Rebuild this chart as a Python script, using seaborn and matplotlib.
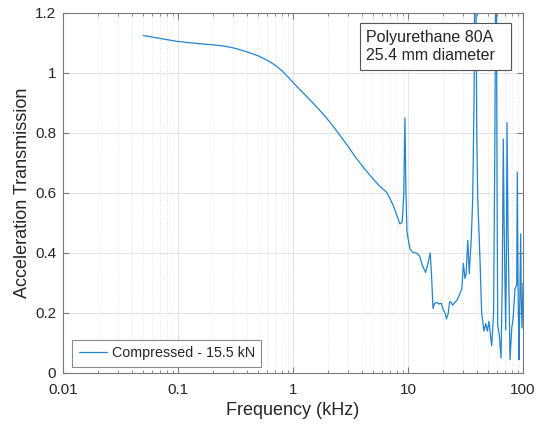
import numpy as np
import pandas as pd
import matplotlib
matplotlib.use('Agg')
import matplotlib.pyplot as plt
import seaborn as sns
from matplotlib.ticker import LogLocator, FixedLocator, FixedFormatter, NullFormatter
from matplotlib.patches import Rectangle

# ---- data ----
freq_khz = [0.05, 0.07, 0.1, 0.15, 0.2, 0.25, 0.3, 0.35, 0.4, 0.5, 0.6, 0.7, 0.8, 0.94,
            1.1, 1.31, 1.55, 1.84, 2.2, 2.56, 3.0, 3.58, 4.2, 4.99, 5.7, 6.53, 7.0, 7.45,
            8.0, 8.51, 8.9, 9.2, 9.4, 9.6, 9.8, 10.1, 10.4, 11.0, 11.9, 12.6, 13.3, 14.2,
            14.8, 15.6, 16.0, 16.5, 17.0, 17.8, 18.6, 19.5, 20.3, 21.0, 21.6, 22.4, 23.0,
            23.5, 24.5, 25.5, 26.7, 28.3, 29.4, 30.3, 31.3, 32.0, 33.1, 34.1, 35.5, 36.5,
            37.5, 38.2, 38.8, 39.6, 40.4, 41.4, 42.5, 43.7, 45.8, 47.4, 49.0, 50.6, 53.4,
            55.5, 57.0, 57.9, 58.6, 59.5, 60.3, 62.2, 64.4, 66.0, 67.4, 68.5, 70.7, 71.8,
            72.6, 74.0, 77.1, 79.8, 82.0, 85.2, 88.2, 89.2, 90.5, 92.3, 93.5, 95.5, 96.5,
            98.0, 100.0]
transmission = [1.125, 1.115, 1.105, 1.098, 1.094, 1.09, 1.084, 1.077, 1.07, 1.057, 1.042,
                1.026, 1.008, 0.98, 0.952, 0.922, 0.893, 0.862, 0.826, 0.792, 0.756, 0.714,
                0.68, 0.646, 0.622, 0.602, 0.58, 0.558, 0.525, 0.497, 0.503, 0.6, 0.85, 0.6,
                0.47, 0.44, 0.414, 0.402, 0.40, 0.39, 0.36, 0.335, 0.36, 0.40, 0.33, 0.215,
                0.232, 0.235, 0.23, 0.232, 0.21, 0.2, 0.18, 0.2, 0.237, 0.237, 0.226, 0.235,
                0.243, 0.265, 0.282, 0.365, 0.315, 0.33, 0.442, 0.331, 0.45, 0.574, 0.9, 1.4,
                1.4, 0.8, 0.58, 0.475, 0.35, 0.2, 0.14, 0.165, 0.14, 0.172, 0.09, 0.2, 0.8,
                1.4, 1.4, 0.6, 0.16, 0.127, 0.05, 0.3, 0.78, 0.5, 0.144, 0.4, 0.835, 0.5,
                0.044, 0.15, 0.18, 0.28, 0.293, 0.67, 0.3, 0.044, 0.2, 0.464, 0.25, 0.15, 0.3]
series_label = 'Compressed - 15.5 kN'
x_ticks = [0.01, 0.1, 1, 10, 100]
x_tick_labels = ['0.01', '0.1', '1', '10', '100']
y_ticks = [0, 0.2, 0.4, 0.6, 0.8, 1.0, 1.2]
y_tick_labels = ['0', '0.2', '0.4', '0.6', '0.8', '1', '1.2']
annotation = 'Polyurethane 80A\n25.4 mm diameter'

# ---- style ----
sns.set_style('white')
plt.rcParams['font.family'] = ['Liberation Sans', 'DejaVu Sans']
text_color = '#262626'
axis_color = '#7a7a7a'
line_color = '#2284cf'

fig = plt.figure(figsize=(5.38, 4.26), dpi=100)
ax = fig.add_axes([63 / 538, 53 / 426, 460 / 538, 360 / 426])

df = pd.DataFrame({'Frequency (kHz)': freq_khz,
                   'Acceleration Transmission': transmission,
                   'series': [series_label] * len(freq_khz)})
sns.lineplot(data=df, x='Frequency (kHz)', y='Acceleration Transmission', hue='series',
             palette=[line_color], sort=False, estimator=None, linewidth=0.9, ax=ax)

ax.set_xscale('log')
ax.set_xlim(0.01, 100)
ax.set_ylim(0, 1.2)

ax.xaxis.set_major_locator(FixedLocator(x_ticks))
ax.xaxis.set_major_formatter(FixedFormatter(x_tick_labels))
ax.xaxis.set_minor_locator(LogLocator(base=10, subs=np.arange(2, 10), numticks=20))
ax.xaxis.set_minor_formatter(NullFormatter())
ax.yaxis.set_major_locator(FixedLocator(y_ticks))
ax.yaxis.set_major_formatter(FixedFormatter(y_tick_labels))

ax.grid(which='major', axis='both', color='#e3e3e3', linestyle='-', linewidth=0.7)
ax.grid(which='minor', axis='x', color='#e3e3e3', linestyle=':', linewidth=0.7)
ax.set_axisbelow(True)

for s in ax.spines.values():
    s.set_visible(True)
    s.set_color(axis_color)
    s.set_linewidth(0.8)

ax.tick_params(which='both', direction='in', top=True, right=True, bottom=True, left=True,
               colors=axis_color, labelcolor=text_color, labelsize=11)
ax.tick_params(which='major', length=4.5, width=0.8)
ax.tick_params(which='minor', length=2.5, width=0.6)
ax.tick_params(axis='x', which='major', pad=7)
ax.tick_params(axis='y', which='major', pad=5)

ax.set_xlabel('Frequency (kHz)', fontsize=13, color=text_color, labelpad=4)
ax.set_ylabel('Acceleration Transmission', fontsize=13, color=text_color, labelpad=2.5)

leg = ax.legend(loc='lower left', bbox_to_anchor=(0.02, 0.017), borderaxespad=0,
                fontsize=10.3, frameon=True, fancybox=False, framealpha=1,
                handlelength=2.0, handletextpad=0.3, borderpad=0.45)
leg.get_frame().set_edgecolor('#8a8a8a')
leg.get_frame().set_linewidth(0.8)
for t in leg.get_texts():
    t.set_color(text_color)
for h in leg.get_lines():
    h.set_linewidth(0.9)

# annotation box
ax.add_patch(Rectangle(((360 - 63) / 460, (373 - 70) / 360), 151 / 460, 47 / 360,
                       transform=ax.transAxes, facecolor='white', edgecolor='#555555',
                       linewidth=0.8, zorder=5))
ax.text((366 - 63) / 460, (373 - 46.5) / 360, annotation, transform=ax.transAxes,
        ha='left', va='center', fontsize=11.5, color=text_color, linespacing=1.2, zorder=6)

fig.savefig('out.png', dpi=100, facecolor='white')
